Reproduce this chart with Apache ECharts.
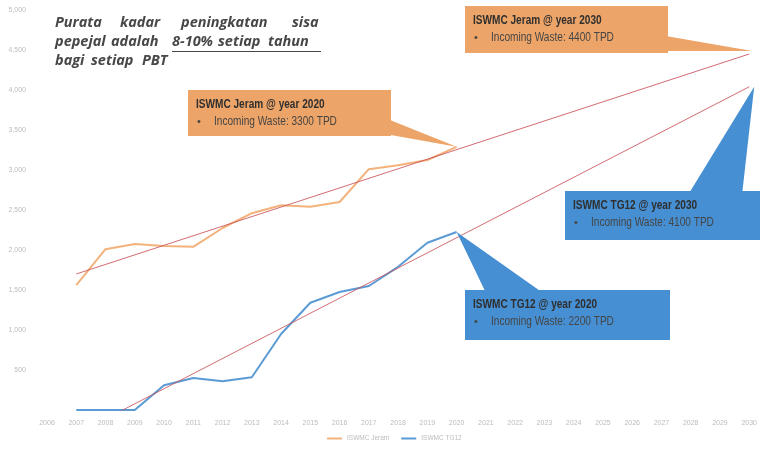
<!DOCTYPE html>
<html><head><meta charset="utf-8">
<style>html,body{margin:0;padding:0;background:#fff}#c{width:760px;height:451px}</style>
<script src="https://cdn.jsdelivr.net/npm/echarts@6/dist/echarts.min.js"></script>
</head><body><div id="c"></div>
<script>
var years = ['2006','2007','2008','2009','2010','2011','2012','2013','2014','2015','2016','2017','2018','2019','2020','2021','2022','2023','2024','2025','2026','2027','2028','2029','2030'];
var jeramValues = [null,1560,2010,2075,2050,2040,2275,2460,2560,2540,2600,3010,3060,3125,3290];
var tg12Values  = [null,0,0,0,310,400,360,410,950,1340,1475,1550,1790,2090,2225];
var jeramTrend = [['2007',1700],['2030',4450]];
var tg12Trend  = [['2007',-300],['2030',4040]];
var seriesNames = ['ISWMC Jeram','ISWMC TG12'];
var callouts = [
  {title:'ISWMC Jeram @ year 2020', text:'Incoming Waste: 3300 TPD'},
  {title:'ISWMC Jeram @ year 2030', text:'Incoming Waste: 4400 TPD'},
  {title:'ISWMC TG12 @ year 2030', text:'Incoming Waste: 4100 TPD'},
  {title:'ISWMC TG12 @ year 2020', text:'Incoming Waste: 2200 TPD'}
];

var chart = echarts.init(document.getElementById('c'));
var lblFont = "'Liberation Sans',sans-serif";
chart.setOption({
  animation:false,
  backgroundColor:'#fff',
  grid:{left:47,right:10,top:10,bottom:41},
  xAxis:{type:'category',data:years,boundaryGap:false,
    axisLine:{show:false},axisTick:{show:false},splitLine:{show:false},
    axisLabel:{color:'#bcbcbc',fontSize:7,margin:10,fontFamily:lblFont,interval:0}},
  yAxis:{type:'value',min:0,max:5000,interval:500,
    axisLine:{show:false},axisTick:{show:false},splitLine:{show:false},
    axisLabel:{color:'#bcbcbc',fontSize:7,margin:21,fontFamily:lblFont,
      formatter:function(v){return v===0?'':v.toLocaleString('en-US');}}},
  legend:{data:seriesNames,bottom:4,left:322,itemWidth:15,itemHeight:2,icon:'rect',itemGap:12,
    textStyle:{color:'#bcbcbc',fontSize:6.5,fontFamily:lblFont}},
  series:[
    {name:seriesNames[0],type:'line',data:jeramValues,showSymbol:false,lineStyle:{color:'#F3B27C',width:2},itemStyle:{color:'#F3B27C'},z:3},
    {name:seriesNames[1],type:'line',data:tg12Values,showSymbol:false,lineStyle:{color:'#5B9BD5',width:2},itemStyle:{color:'#5B9BD5'},z:3},
    {name:'trendJ',type:'line',data:jeramTrend,showSymbol:false,clip:true,lineStyle:{color:'#C9525A',width:1,opacity:0.85},z:4},
    {name:'trendT',type:'line',data:tg12Trend,showSymbol:false,clip:true,lineStyle:{color:'#C9525A',width:1,opacity:0.85},z:4}
  ]
});

function px(cat,val){return chart.convertToPixel({gridIndex:0},[cat,val]);}
var orange='#EDA468', blue='#468FD2';
var tFont="'Liberation Sans',sans-serif";
var sx=0.84;
function box(x,y,w,h,color,c){
  return [
    {type:'rect',shape:{x:x,y:y,width:w,height:h},style:{fill:color},z:10},
    {type:'text',x:x+8,y:y+15,scaleX:sx,style:{text:c.title,fill:'#2f2f2f',font:"bold 12px "+tFont,textVerticalAlign:'middle'},z:11},
    {type:'text',x:x+9,y:y+32,style:{text:'\u2022',fill:'#444',font:"11px "+tFont,textVerticalAlign:'middle'},z:11},
    {type:'text',x:x+26,y:y+32,scaleX:sx,style:{text:c.text,fill:'#454545',font:"12px "+tFont,textVerticalAlign:'middle'},z:11}
  ];
}
var p1=px('2020',jeramValues[14]);
var p2=px('2030',jeramTrend[1][1]);
var p3=px('2030',tg12Trend[1][1]);
var p4=px('2020',tg12Values[14]);
var g=[];
g.push({type:'polygon',shape:{points:[[385,118],[p1[0],p1[1]],[385,134]]},style:{fill:orange},z:10});
g=g.concat(box(188,90,203,46,orange,callouts[0]));
g.push({type:'polygon',shape:{points:[[660,35],[p2[0]+3,p2[1]-3],[660,51]]},style:{fill:orange},z:10});
g=g.concat(box(465,6,203,47,orange,callouts[1]));
g.push({type:'polygon',shape:{points:[[688,195],[p3[0]+5,p3[1]],[742,195]]},style:{fill:blue},z:10});
g=g.concat(box(565,191,195,49,blue,callouts[2]));
g.push({type:'polygon',shape:{points:[[486,293],[p4[0],p4[1]],[543,293]]},style:{fill:blue},z:10});
g=g.concat(box(465,290,205,50,blue,callouts[3]));
// note text
var nf="italic bold 14.5px 'Open Sans','Noto Sans',sans-serif";
var words=[['Purata',55,23],['kadar',120,23],['peningkatan',181,23],['sisa',292,23],
  ['pepejal',55,42],['adalah',111,42],['8-10%',172,42],['setiap',218,42],['tahun',268,42],
  ['bagi',55,61],['setiap',91,61],['PBT',142,61]];
words.forEach(function(w){g.push({type:'text',x:w[1],y:w[2],style:{text:w[0],fill:'#474747',font:nf,textVerticalAlign:'middle'},z:12});});
g.push({type:'line',shape:{x1:172,y1:51.5,x2:321,y2:51.5},style:{stroke:'#474747',lineWidth:1},z:12});
chart.setOption({graphic:g});
</script></body></html>
